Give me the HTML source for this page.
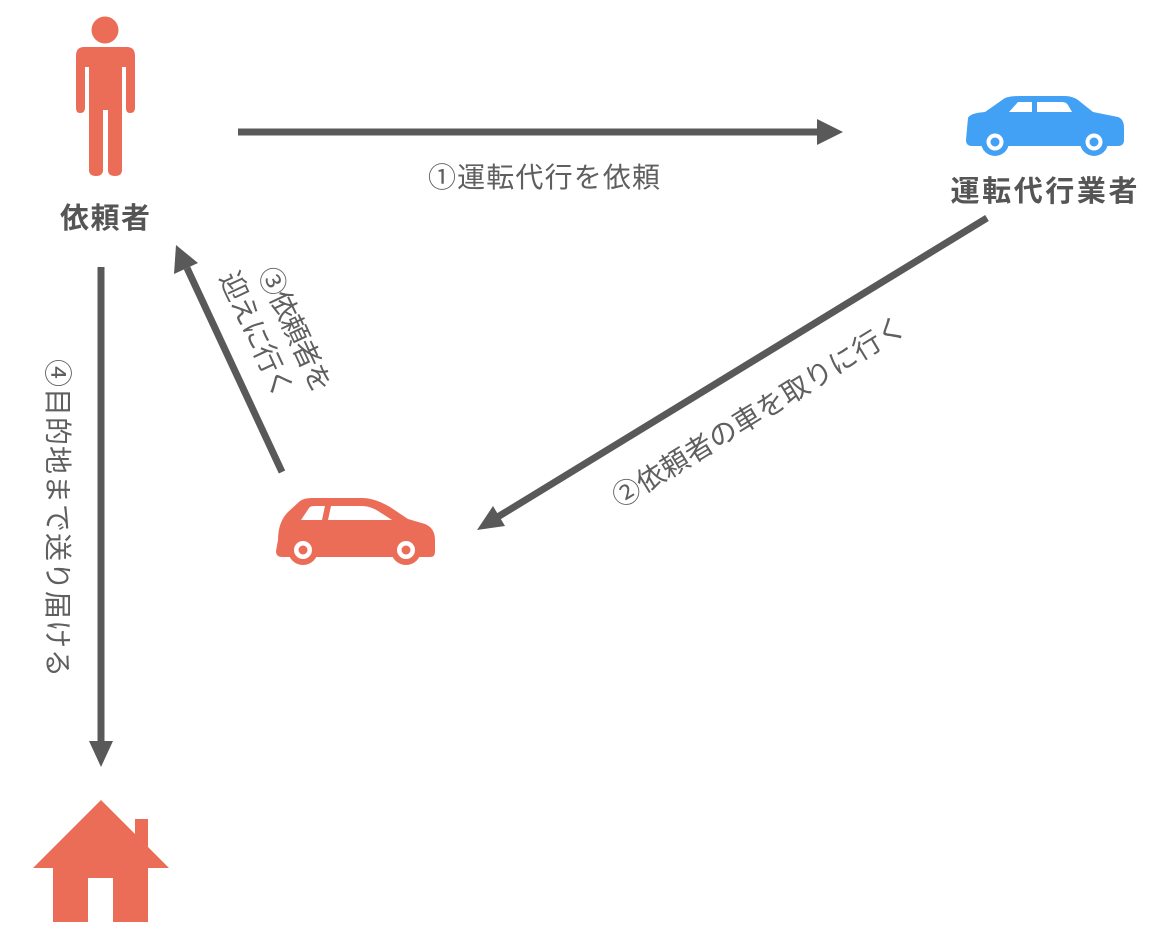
<!DOCTYPE html>
<html><head><meta charset="utf-8"><style>
html,body{margin:0;padding:0;background:#fff;}
svg{display:block;}
text{font-family:"Liberation Sans","Noto Sans CJK JP",sans-serif;}
.l{fill:#5f5f5f;font-size:28px;font-weight:normal;}
.b{fill:#555;font-size:29px;font-weight:bold;}
</style></head><body>
<svg width="1160" height="944" viewBox="0 0 1160 944" xmlns="http://www.w3.org/2000/svg">
<g fill="#ec6d57">
<circle cx="105" cy="30" r="13.5"/>
<path d="M84 47 H127 Q135 47 135 56 V108 Q135 113 130 113 Q126 113 126 108 V67 H122 V170 Q122 176 115 176 Q108 176 108 170 V110 H103 V170 Q103 176 96 176 Q89 176 89 170 V67 H85 V108 Q85 113 80 113 Q76 113 76 108 V56 Q76 47 84 47 Z"/>
</g>
<text class="b" x="105" y="228" text-anchor="middle" textLength="90">依頼者</text>

<line x1="238" y1="132" x2="822" y2="132" stroke="#595959" stroke-width="7"/>
<polygon points="843,132 817,119 817,145" fill="#595959"/>
<text class="l" x="544" y="187" text-anchor="middle" textLength="232">①運転代行を依頼</text>

<g fill="#42a0f5">
<path d="M968 118 Q970 113 985 112 L1005 98 Q1010 96 1020 96 H1065 Q1072 96 1078 100 L1093 112 L1118 117 Q1124 119 1124 128 V140 Q1124 146 1118 146 H972 Q966 146 966 140 Z"/>
<circle cx="995" cy="142" r="14"/><circle cx="1094" cy="142" r="14"/>
</g>
<g fill="#fff">
<path d="M1009 112 L1018 102 H1032 V112 Z"/>
<path d="M1037 102 H1062 Q1066 102 1068 105 L1072 112 H1037 Z"/>
<circle cx="995" cy="142" r="8.5"/><circle cx="1094" cy="142" r="8.5"/>
</g>
<g fill="#42a0f5"><circle cx="995" cy="142" r="4.5"/><circle cx="1094" cy="142" r="4.5"/></g>
<text class="b" x="1044" y="201" text-anchor="middle" textLength="187">運転代行業者</text>

<line x1="987" y1="218" x2="496" y2="518" stroke="#595959" stroke-width="7"/>
<polygon points="477,530 493,506 505,526" fill="#595959"/>
<text class="l" transform="translate(764,420) rotate(-31.5)" x="0" y="0" text-anchor="middle" textLength="338">②依頼者の車を取りに行く</text>

<line x1="282" y1="472" x2="187" y2="268" stroke="#595959" stroke-width="7"/>
<polygon points="176,245 174,274 198,263" fill="#595959"/>
<g transform="translate(278,340) rotate(65)">
<text class="l" x="-2" y="-10" text-anchor="middle" textLength="135">③依頼者を</text>
<text class="l" x="-14" y="27" text-anchor="middle" textLength="135">迎えに行く</text>
</g>

<line x1="101" y1="267" x2="101" y2="745" stroke="#595959" stroke-width="7"/>
<polygon points="101,767 89,741 113,741" fill="#595959"/>
<text class="l" transform="translate(48,518) rotate(90)" x="0" y="0" text-anchor="middle" textLength="318">④目的地まで送り届ける</text>

<g fill="#ec6d57">
<path d="M278 540 Q278 522 288 512 L300 501 Q304 498 312 498 H362 Q375 498 390 507 L408 519 L425 524 Q435 528 435 540 V552 Q435 557 430 557 H282 Q276 557 276 551 Z"/>
<circle cx="303" cy="550" r="15"/><circle cx="406" cy="550" r="15"/>
</g>
<g fill="#fff">
<path d="M301 520 L309 508 Q310 506 315 506 H325 L322 520 Z"/>
<path d="M331 506 H362 Q370 506 378 511 L392 520 H328 Z"/>
<circle cx="303" cy="550" r="9"/><circle cx="406" cy="550" r="9"/>
</g>
<g fill="#ec6d57"><circle cx="303" cy="550" r="4.5"/><circle cx="406" cy="550" r="4.5"/></g>

<g fill="#ec6d57">
<polygon points="101,800 33,868 53,868 53,922 88,922 88,878 113,878 113,922 148,922 148,868 169,868 148,847 148,819 135,819 135,834"/>
</g>
</svg>
</body></html>
